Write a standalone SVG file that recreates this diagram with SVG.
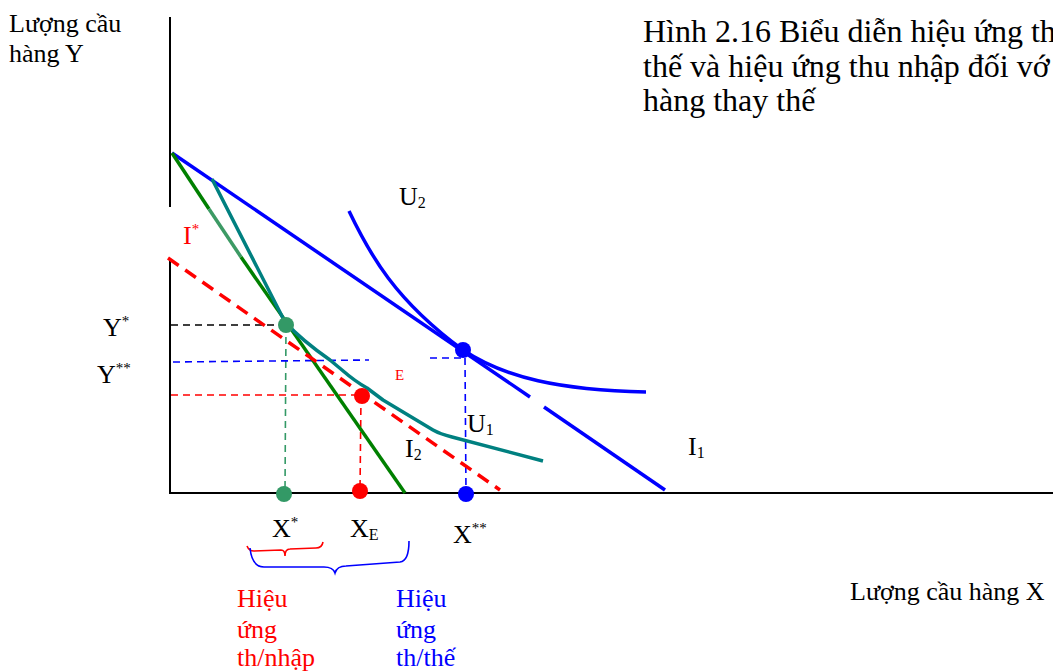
<svg xmlns="http://www.w3.org/2000/svg" width="1053" height="672" viewBox="0 0 1053 672">
<style>
text{font-family:"Liberation Serif","Times New Roman",serif;fill:#000}
.lbl{font-size:26px}
.title{font-size:32px}
.sub{font-size:16px}
.sup{font-size:15px}
.red{fill:#ff0000}
.blue{fill:#0000ff}
.axis{stroke:#000;stroke-width:2;fill:none}
.thick{stroke-width:3.5;fill:none;stroke-linecap:butt;stroke-linejoin:round}
.dash{stroke-width:1.6;stroke-dasharray:7 5;fill:none}
</style>
<rect width="1053" height="672" fill="#fff"/>
<g id="axes">
<line class="axis" x1="170" y1="17" x2="170" y2="207"/>
<line class="axis" x1="170" y1="258" x2="170" y2="494"/>
<line class="axis" x1="169" y1="493" x2="1053" y2="493"/>
</g>
<g id="connectors">
<line class="dash" stroke="#000" x1="171" y1="325" x2="286" y2="325"/>
<line class="dash" stroke="#339966" x1="286" y1="325" x2="285" y2="493"/>
<line class="dash" stroke="#0000ff" x1="173" y1="362" x2="369" y2="360"/>
<line class="dash" stroke="#0000ff" x1="430" y1="358" x2="465" y2="358"/>
<line class="dash" stroke="#0000ff" x1="465" y1="358" x2="466" y2="493"/>
<line class="dash" stroke="#ff0000" x1="171" y1="395" x2="362" y2="395"/>
<line class="dash" stroke="#ff0000" x1="361" y1="396" x2="360" y2="491"/>
<line class="thick" stroke="#0000ff" x1="172" y1="153" x2="530" y2="397"/>
<line class="thick" stroke="#0000ff" x1="544" y1="407" x2="665" y2="490"/>
<path class="thick" stroke="#0000ff" d="M349,211 C370,255 395,300 463,350 C505,378 560,390 646,392"/>
<line class="thick" stroke="#008000" x1="172" y1="153" x2="209" y2="209"/>
<line class="thick" stroke="#3c9a64" x1="209" y1="209" x2="241" y2="257"/>
<line class="thick" stroke="#008000" x1="241" y1="257" x2="405" y2="493"/>
<line stroke="#ff0000" stroke-width="3.5" stroke-dasharray="13 8" x1="168" y1="258" x2="500" y2="490"/>
<path class="thick" stroke="#008080" d="M212,179 L285,322 C295,333 310,346 330,360 L342,370 C350,377 358,383 367,388 L383,400 L433,430 Q440,434 452,437 L543,461"/>
</g>
<g id="dots">
<circle cx="286" cy="325" r="8" fill="#339966"/>
<circle cx="463" cy="350" r="8" fill="#0000ff"/>
<circle cx="362" cy="396" r="8" fill="#ff0000"/>
<circle cx="284" cy="494" r="8" fill="#339966"/>
<circle cx="360" cy="491" r="8" fill="#ff0000"/>
<circle cx="466" cy="494" r="8" fill="#0000ff"/>
</g>
<g id="braces">
<path d="M247,546 Q249,551 254,551 L281,550 Q285,550 285,556 Q285,549 290,549 L316,548 Q322,548 323,542" fill="none" stroke="#ff0000" stroke-width="1.6"/>
<path d="M250,548 Q252,567 264,567 L324,567 Q333,567 335,573 Q337,566 346,566 L400,562 Q409,561 409,541" fill="none" stroke="#0000ff" stroke-width="1.6"/>
</g>
<g id="labels">
<text class="lbl" x="9" y="32">Lượng cầu</text>
<text class="lbl" x="9" y="62">hàng Y</text>
<text class="title" x="643" y="42">Hình 2.16 Biểu diễn hiệu ứng th</text>
<text class="title" x="643" y="77">thế và hiệu ứng thu nhập đối vớ</text>
<text class="title" x="643" y="111">hàng thay thế</text>
<text class="lbl" x="399" y="205">U<tspan class="sub" dy="3">2</tspan></text>
<text class="lbl red" x="183" y="244">I<tspan class="sup red" dy="-10">*</tspan></text>
<text class="lbl" x="103" y="336">Y<tspan class="sup" dy="-10">*</tspan></text>
<text class="lbl" x="97" y="383">Y<tspan class="sup" dy="-10">**</tspan></text>
<text class="red" style="font-size:15px" x="395" y="380">E</text>
<text class="lbl" x="467" y="432">U<tspan class="sub" dy="3">1</tspan></text>
<text class="lbl" x="405" y="457">I<tspan class="sub" dy="3">2</tspan></text>
<text class="lbl" x="688" y="455">I<tspan class="sub" dy="3">1</tspan></text>
<text class="lbl" x="272" y="537">X<tspan class="sup" dy="-10">*</tspan></text>
<text class="lbl" x="350" y="537">X<tspan class="sub" dy="3">E</tspan></text>
<text class="lbl" x="453" y="543">X<tspan class="sup" dy="-10">**</tspan></text>
<text class="lbl red" x="237" y="607">Hiệu</text>
<text class="lbl red" x="237" y="638">ứng</text>
<text class="lbl red" x="237" y="666">th/nhập</text>
<text class="lbl blue" x="396" y="607">Hiệu</text>
<text class="lbl blue" x="396" y="638">ứng</text>
<text class="lbl blue" x="396" y="666">th/thế</text>
<text class="lbl" x="850" y="600">Lượng cầu hàng X</text>
</g>
</svg>
